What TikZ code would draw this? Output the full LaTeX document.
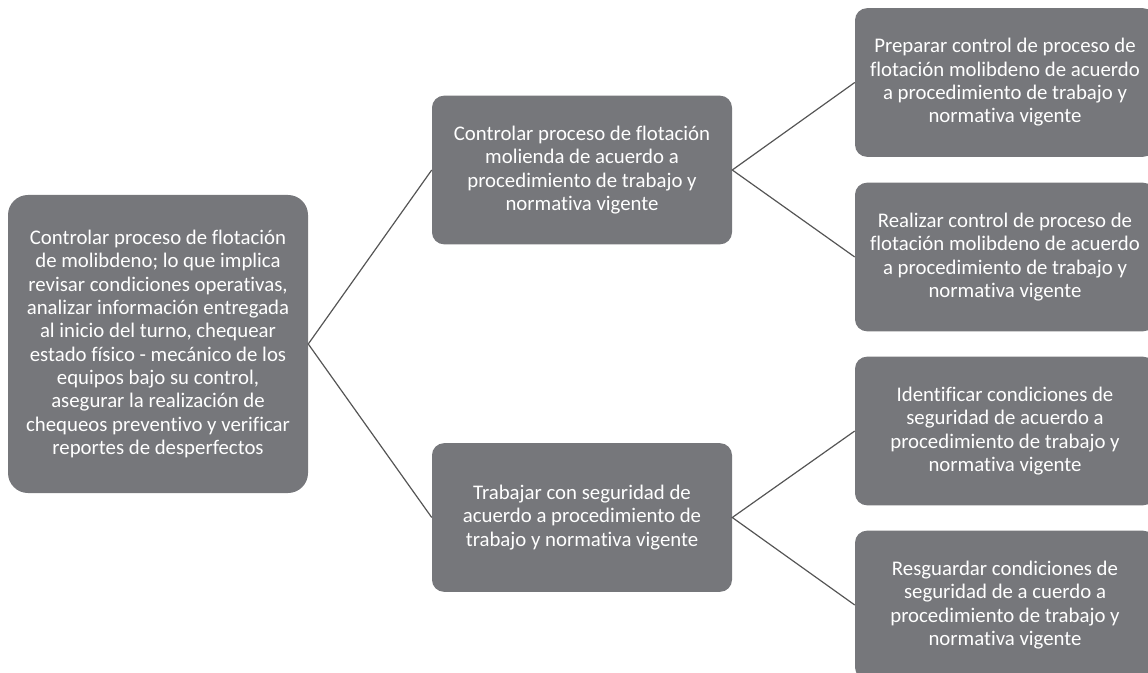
\documentclass[tikz,border=0pt]{standalone}
\usepackage{fontspec}
\setmainfont{Carlito}[Ligatures=NoCommon]
\definecolor{boxgray}{RGB}{118,119,123}
\definecolor{linegray}{RGB}{85,85,85}

\begin{document}
\begin{tikzpicture}[x=0.75pt, y=-0.75pt,
    box/.style={rounded corners=9pt, fill=boxgray, text=white, align=center,
      font=\fontsize{15.6}{17.5}\selectfont, minimum width=225pt, minimum height=111.5pt, inner sep=0pt},
    rootbox/.style={box, rounded corners=15pt, minimum height=223.5pt},
    link/.style={draw=linegray, line width=0.9pt}]
    \useasboundingbox (0,0) rectangle (1148,673);
    \node[rootbox] (root) at (158,344) {Controlar proceso de flotación\\de molibdeno; lo que implica\\revisar condiciones operativas,\\analizar información entregada\\al inicio del turno, chequear\\estado físico - mecánico de los\\equipos bajo su control,\\asegurar la realización de\\chequeos preventivo y verificar\\reportes de desperfectos};
    \node[box] (controlar) at (582,170) {Controlar proceso de flotación\\molienda de acuerdo a\\procedimiento de trabajo y\\normativa vigente};
    \node[box] (trabajar) at (582,517.5) {Trabajar con seguridad de\\acuerdo a procedimiento de\\trabajo y normativa vigente};
    \node[box] (preparar) at (1005,82.5) {Preparar control de proceso de\\flotación molibdeno de acuerdo\\a procedimiento de trabajo y\\normativa vigente};
    \node[box] (realizar) at (1005,257) {Realizar control de proceso de\\flotación molibdeno de acuerdo\\a procedimiento de trabajo y\\normativa vigente};
    \node[box] (identificar) at (1005,431) {Identificar condiciones de\\seguridad de acuerdo a\\procedimiento de trabajo y\\normativa vigente};
    \node[box] (resguardar) at (1005,605) {Resguardar condiciones de\\seguridad de a cuerdo a\\procedimiento de trabajo y\\normativa vigente};
    \draw[link] (controlar.west) -- (root.east) -- (trabajar.west);
    \draw[link] (preparar.west) -- (controlar.east) -- (realizar.west);
    \draw[link] (identificar.west) -- (trabajar.east) -- (resguardar.west);
\end{tikzpicture}
\end{document}
